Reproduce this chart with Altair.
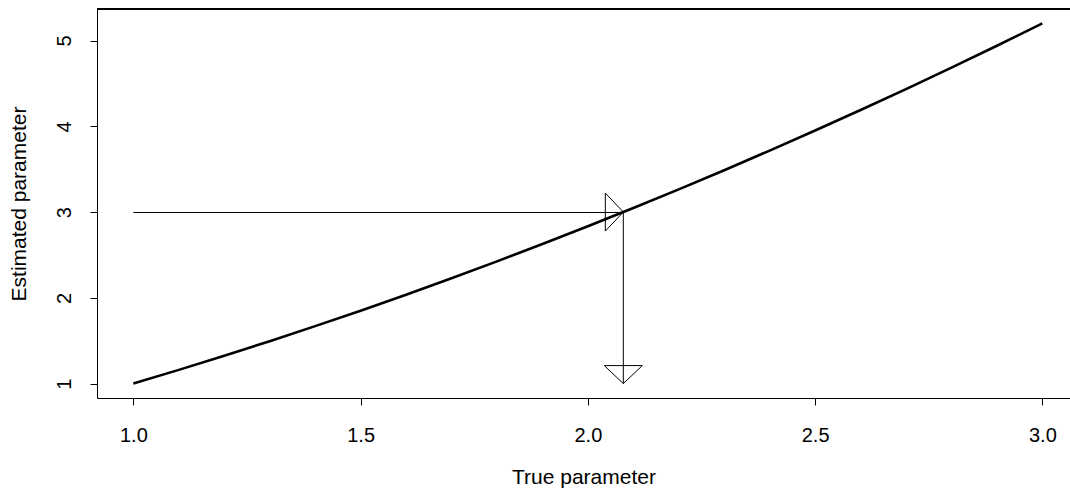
import altair as alt
import pandas as pd

# Curve: true parameter vs estimated parameter
x_true = [1.0, 1.1, 1.2, 1.3, 1.4, 1.5, 1.6, 1.7, 1.8, 1.9, 2.0,
          2.1, 2.2, 2.3, 2.4, 2.5, 2.6, 2.7, 2.8, 2.9, 3.0]
y_est = [1.00, 1.16, 1.325, 1.495, 1.67, 1.85, 2.037, 2.228, 2.425, 2.627, 2.834,
         3.047, 3.265, 3.488, 3.717, 3.951, 4.19, 4.434, 4.684, 4.939, 5.20]

# Arrow construction
arrow_start_x = [1.0]
arrow_level_y = [3.0]
arrow_hit_x = [2.078]
arrow_floor_y = [1.0]

x_ticks = [1.0, 1.5, 2.0, 2.5, 3.0]
y_ticks = [1, 2, 3, 4, 5]

FONT = "Liberation Sans"
W, H = 973, 389

curve_df = pd.DataFrame({"x": x_true, "y": y_est})
h_arrow = pd.DataFrame({"x": arrow_start_x, "x2": arrow_hit_x, "y": arrow_level_y})
v_arrow = pd.DataFrame({"x": arrow_hit_x, "y": arrow_level_y, "y2": arrow_floor_y})
h_head = pd.DataFrame({"x": arrow_hit_x, "y": arrow_level_y})
v_head = pd.DataFrame({"x": arrow_hit_x, "y": arrow_floor_y})

xs = alt.Scale(domain=[0.92, 3.0608], nice=False, zero=False)
ys = alt.Scale(domain=[0.832, 5.368], nice=False, zero=False)

X = alt.X("x:Q", scale=xs, title="True parameter",
          axis=alt.Axis(values=x_ticks, format=".1f", tickSize=7,
                        labelPadding=36, labelBaseline="alphabetic",
                        labelFontSize=20, titleFontSize=21,
                        titleBaseline="alphabetic", titleY=85))
Y = alt.Y("y:Q", scale=ys, title="Estimated parameter",
          axis=alt.Axis(values=y_ticks, format="d", tickSize=7,
                        labelAngle=270, labelAlign="center",
                        labelBaseline="alphabetic", labelPadding=20,
                        labelFontSize=20, titleFontSize=21,
                        titleAngle=270, titleBaseline="alphabetic",
                        titleX=-72))

curve = alt.Chart(curve_df).mark_line(color="black", strokeWidth=2.6,
                                      interpolate="linear").encode(x=X, y=Y)

hline = alt.Chart(h_arrow).mark_rule(color="black", strokeWidth=1,
                                     yOffset=0.42).encode(x=X, x2="x2:Q", y=Y)
vline = alt.Chart(v_arrow).mark_rule(color="black", strokeWidth=1).encode(
    x=X, y=Y, y2="y2:Q")

hhead = alt.Chart(h_head).mark_point(
    shape="M -0.947 -1 L 0 0 L -0.947 1 Z", size=1444, filled=False,
    stroke="black", strokeWidth=1, opacity=1).encode(x=X, y=Y)
vhead = alt.Chart(v_head).mark_point(
    shape="M -1 -0.947 L 0 0 L 1 -0.947 Z", size=1444, filled=False,
    stroke="black", strokeWidth=1, opacity=1).encode(x=X, y=Y)

top_border = alt.Chart(curve_df).mark_rule(color="black", strokeWidth=1).encode(
    x=alt.value(0), x2=alt.value(W), y=alt.value(0))

chart = alt.layer(curve, hline, vline, hhead, vhead, top_border).properties(
    width=W, height=H,
    autosize=alt.AutoSizeParams(type="none"),
    padding={"left": 97, "top": 9, "right": 0, "bottom": 91},
    background="white",
).configure_view(stroke=None).configure_axis(
    grid=False, domainColor="black", tickColor="black", labelColor="black",
    titleColor="black", labelFont=FONT, titleFont=FONT,
    titleFontWeight="normal", domainWidth=1, tickWidth=1,
)

chart.save("out.html", embed_options={"renderer": "svg", "actions": False})
